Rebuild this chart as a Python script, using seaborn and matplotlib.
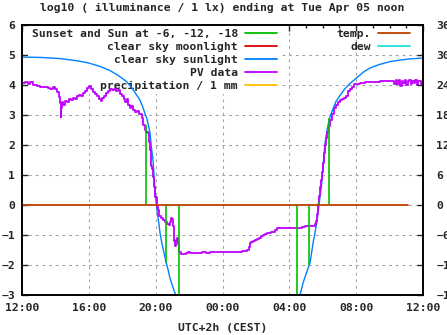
import matplotlib
matplotlib.use("Agg")
import matplotlib.pyplot as plt
from matplotlib.lines import Line2D
from matplotlib.ticker import MultipleLocator
import seaborn as sns

# ---- data: hours after Monday 12:00 (UTC+2) and log10(lux) ----
pv_hours = [
    0.00, 0.18, 0.36, 0.48, 0.66, 0.90, 1.08, 1.32, 1.56, 1.68, 1.86, 1.98,
    2.09, 2.21, 2.27, 2.32, 2.36, 2.42, 2.48, 2.57, 2.69, 2.81, 2.93, 3.05,
    3.17, 3.29, 3.41, 3.53, 3.65, 3.77, 3.89, 4.01, 4.13, 4.25, 4.37, 4.49,
    4.61, 4.70, 4.79, 4.91, 5.03, 5.15, 5.27, 5.39, 5.51, 5.63, 5.75, 5.87,
    5.99, 6.10, 6.19, 6.28, 6.37, 6.46, 6.55, 6.64, 6.76, 6.88, 7.00, 7.09,
    7.18, 7.27, 7.36, 7.45, 7.54, 7.63, 7.69, 7.75, 7.81, 7.87, 7.93, 7.99,
    8.05, 8.11, 8.20, 8.32, 8.44, 8.56, 8.68, 8.77, 8.83, 8.89, 8.95, 9.01,
    9.07, 9.12, 9.16, 9.22, 9.28, 9.34, 9.41, 9.49, 9.64, 9.82, 9.94, 10.06,
    10.29, 10.53, 10.77, 11.01, 11.25, 11.49, 11.73, 11.97, 12.21, 12.45,
    12.69, 12.93, 13.17, 13.35, 13.47, 13.56, 13.62, 13.71, 13.83, 13.95,
    14.07, 14.19, 14.31, 14.43, 14.54, 14.66, 14.78, 14.90, 15.02, 15.14,
    15.24, 15.38, 15.62, 15.86, 16.10, 16.34, 16.58, 16.76, 16.94, 17.18,
    17.42, 17.54, 17.60, 17.66, 17.72, 17.78, 17.84, 17.90, 17.96, 18.02,
    18.08, 18.14, 18.20, 18.26, 18.35, 18.43, 18.55, 18.67, 18.79, 18.91,
    19.03, 19.15, 19.27, 19.39, 19.51, 19.63, 19.75, 19.87, 19.99, 20.23,
    20.53, 20.83, 21.13, 21.43, 21.73, 22.03, 22.20, 22.29, 22.38, 22.47,
    22.56, 22.65, 22.74, 22.83, 22.92, 23.01, 23.10, 23.19, 23.28, 23.37,
    23.46, 23.55, 23.64, 23.73, 23.82, 23.91, 24.00,
]
pv_log_lux = [
    4.06, 4.10, 4.04, 4.10, 4.00, 3.96, 3.94, 3.92, 3.90, 3.88, 3.94, 3.88,
    3.78, 3.60, 3.40, 2.95, 3.25, 3.42, 3.35, 3.48, 3.44, 3.52, 3.50, 3.57,
    3.55, 3.62, 3.67, 3.65, 3.72, 3.80, 3.90, 3.96, 3.88, 3.78, 3.70, 3.62,
    3.55, 3.48, 3.58, 3.62, 3.72, 3.80, 3.88, 3.84, 3.86, 3.80, 3.84, 3.70,
    3.62, 3.55, 3.45, 3.55, 3.35, 3.22, 3.30, 3.18, 3.10, 3.12, 3.02, 3.05,
    2.90, 2.67, 2.50, 2.45, 2.40, 2.10, 1.85, 1.30, 1.20, 0.95, 0.60, 0.28,
    -0.05, -0.17, -0.35, -0.42, -0.50, -0.58, -0.64, -0.67, -0.55, -0.42,
    -0.45, -0.70, -0.95, -1.20, -1.38, -1.15, -1.10, -1.30, -1.58, -1.63,
    -1.64, -1.60, -1.58, -1.60, -1.59, -1.60, -1.58, -1.59, -1.57, -1.58,
    -1.56, -1.57, -1.55, -1.56, -1.55, -1.56, -1.54, -1.53, -1.50, -1.40,
    -1.26, -1.22, -1.20, -1.16, -1.13, -1.10, -1.04, -1.00, -0.96, -0.93,
    -0.92, -0.90, -0.89, -0.84, -0.78, -0.76, -0.75, -0.76, -0.76, -0.78,
    -0.77, -0.72, -0.71, -0.70, -0.69, -0.64, -0.52, -0.30, 0.05, 0.30,
    0.60, 0.85, 1.10, 1.40, 1.75, 2.00, 2.25, 2.45, 2.65, 2.85, 3.02, 3.25,
    3.35, 3.42, 3.50, 3.55, 3.58, 3.62, 3.80, 3.88, 3.95, 4.02, 4.05, 4.08,
    4.09, 4.10, 4.10, 4.12, 4.12, 4.13, 4.13, 4.02, 4.15, 4.05, 4.16, 3.98,
    4.14, 4.08, 4.17, 4.00, 4.12, 4.15, 4.03, 4.13, 4.06, 4.16, 3.99, 4.12,
    4.14, 4.04, 4.11,
]

sun_hours = [
    0.00, 1.08, 2.27, 3.27, 3.95, 4.67, 5.27, 5.75, 6.27, 6.64, 6.88, 7.06,
    7.24, 7.36, 7.46, 7.57, 7.66, 7.75, 7.84, 7.90, 7.96, 8.02, 8.11, 8.20,
    8.26, 8.38, 8.50, 8.62, 8.74, 8.86, 8.98, 9.10, 9.20, 9.34,
    16.46, 16.64, 16.82, 17.00, 17.24, 17.42, 17.64, 17.79, 17.94, 18.03,
    18.14, 18.26, 18.34, 18.47, 18.59, 18.79, 19.03, 19.33, 19.63, 19.99,
    20.41, 20.83, 21.43, 22.03, 22.62, 23.22, 24.00,
]
sun_log_lux = [
    4.93, 4.92, 4.88, 4.81, 4.74, 4.62, 4.48, 4.32, 4.11, 3.85, 3.65, 3.50,
    3.25, 3.05, 2.90, 2.65, 2.40, 1.90, 1.50, 1.00, 0.50, 0.10, -0.30, -0.65,
    -0.93, -1.30, -1.60, -1.90, -2.15, -2.45, -2.65, -2.85, -3.00, -3.30,
    -3.30, -3.00, -2.60, -2.30, -1.93, -1.27, -0.60, 0.07, 0.73, 1.40,
    2.07, 2.50, 2.73, 3.00, 3.17, 3.45, 3.65, 3.88, 4.05, 4.22,
    4.42, 4.57, 4.69, 4.78, 4.83, 4.87, 4.90,
]

# sunset, Sun at -6, -12, -18 (evening) and -18, -12, -6, sunrise (morning)
event_hours = [7.44, 8.64, 9.38, 16.48, 17.20, 17.78, 18.39]
event_log_lux = [2.66, -1.93, -3.40, -3.40, -2.00, 0.10, 2.90]

temp_hours = [0.0, 23.08]
temp_c = [0.0, 0.0]

time_ticks = [0, 4, 8, 12, 16, 20, 24]
time_labels = ["12:00", "16:00", "20:00", "00:00", "04:00", "08:00", "12:00"]

left_labels = ["Sunset and Sun at -6, -12, -18", "clear sky moonlight",
               "clear sky sunlight", "PV data", "precipitation / 1 mm"]
right_labels = ["temp.", "dew"]

C_EVENT = "#00c000"
C_MOON = "#e00000"
C_SUN = "#0080ff"
C_PV = "#c000ff"
C_RAIN = "#ffc000"
C_TEMP = "#c04000"
C_DEW = "#20e0e0"

FS = 8.2

sns.set_theme(style="white")
plt.rcParams.update({
    "font.family": ["DejaVu Sans Mono"],
    "font.weight": "bold",
    "font.size": FS,
    "axes.labelsize": FS,
    "axes.labelweight": "bold",
    "xtick.labelsize": FS,
    "ytick.labelsize": FS,
    "legend.fontsize": FS,
})

fig = plt.figure(figsize=(4.47, 3.35), dpi=100)
ax = fig.add_axes([22 / 447, 40 / 335, 401 / 447, 270 / 335])
ax2 = ax.twinx()

# curves on the illuminance axis
sns.lineplot(x=sun_hours[:34], y=sun_log_lux[:34], ax=ax, color=C_SUN, lw=1.0,
             estimator=None, sort=False, legend=False, zorder=3)
sns.lineplot(x=sun_hours[34:], y=sun_log_lux[34:], ax=ax, color=C_SUN, lw=1.0,
             estimator=None, sort=False, legend=False, zorder=3)
sns.lineplot(x=pv_hours, y=pv_log_lux, ax=ax, color=C_PV, lw=1.3,
             drawstyle="steps-post", estimator=None, sort=False, legend=False, zorder=4)
ax.vlines(event_hours, 0, event_log_lux, colors=C_EVENT, lw=1.2, zorder=5)

# temperature on the right axis
sns.lineplot(x=temp_hours, y=temp_c, ax=ax2, color=C_TEMP, lw=1.3,
             estimator=None, sort=False, legend=False)

ax.set_xlim(0, 24)
ax.set_ylim(-3, 6)
ax2.set_ylim(-18, 36)
ax.set_xticks(time_ticks)
ax.set_xticklabels(time_labels)
ax.xaxis.set_minor_locator(MultipleLocator(1))
ax.yaxis.set_major_locator(MultipleLocator(1))
ax2.yaxis.set_major_locator(MultipleLocator(6))
ax.set_xlabel("UTC+2h (CEST)", labelpad=7)
ax.set_ylabel("")
ax2.set_ylabel("")

ax.set_axisbelow(True)
ax.grid(True, which="major", color="#a0a0a0", lw=0.75, linestyle=(0, (2.6, 3.8)))
ax2.grid(False)

ax.tick_params(axis="x", which="both", direction="in", top=True, pad=6)
ax.tick_params(axis="x", which="major", length=4.5, width=1)
ax.tick_params(axis="x", which="minor", length=2.5, width=1)
ax.tick_params(axis="y", which="major", direction="in", length=4.5, width=1, pad=5, right=False)
ax2.tick_params(axis="y", which="major", direction="in", length=4.5, width=1, pad=9.5)
for a in (ax, ax2):
    for s in a.spines.values():
        s.set_color("black")
        s.set_linewidth(1.2)

fig.text(222.5 / 447, 1 - 8 / 335,
         "log10 ( illuminance / 1 lx) ending at Tue Apr 05 noon",
         ha="center", va="center", fontweight="bold", fontsize=FS)

left_handles = [Line2D([], [], color=c, lw=1.3)
                for c in (C_EVENT, C_MOON, C_SUN, C_PV, C_RAIN)]
leg1 = ax.legend(left_handles, left_labels, loc="upper right",
                 bbox_to_anchor=(280 / 447, 1 - 26 / 335), bbox_transform=fig.transFigure,
                 markerfirst=False, frameon=True, facecolor="white", edgecolor="none",
                 framealpha=1.0, fancybox=False, borderpad=0.3, borderaxespad=0,
                 labelspacing=0.25, handlelength=2.8, handletextpad=0.6)
leg1.set_zorder(1)
for t in leg1.get_texts():
    t.set_fontweight("bold")

right_handles = [Line2D([], [], color=c, lw=1.3) for c in (C_TEMP, C_DEW)]
leg2 = ax2.legend(right_handles, right_labels, loc="upper right",
                  bbox_to_anchor=(413 / 447, 1 - 26 / 335), bbox_transform=fig.transFigure,
                  markerfirst=False, frameon=False, borderpad=0.3, borderaxespad=0,
                  labelspacing=0.25, handlelength=2.8, handletextpad=0.6)
for t in leg2.get_texts():
    t.set_fontweight("bold")

fig.savefig("out.png", dpi=100)
